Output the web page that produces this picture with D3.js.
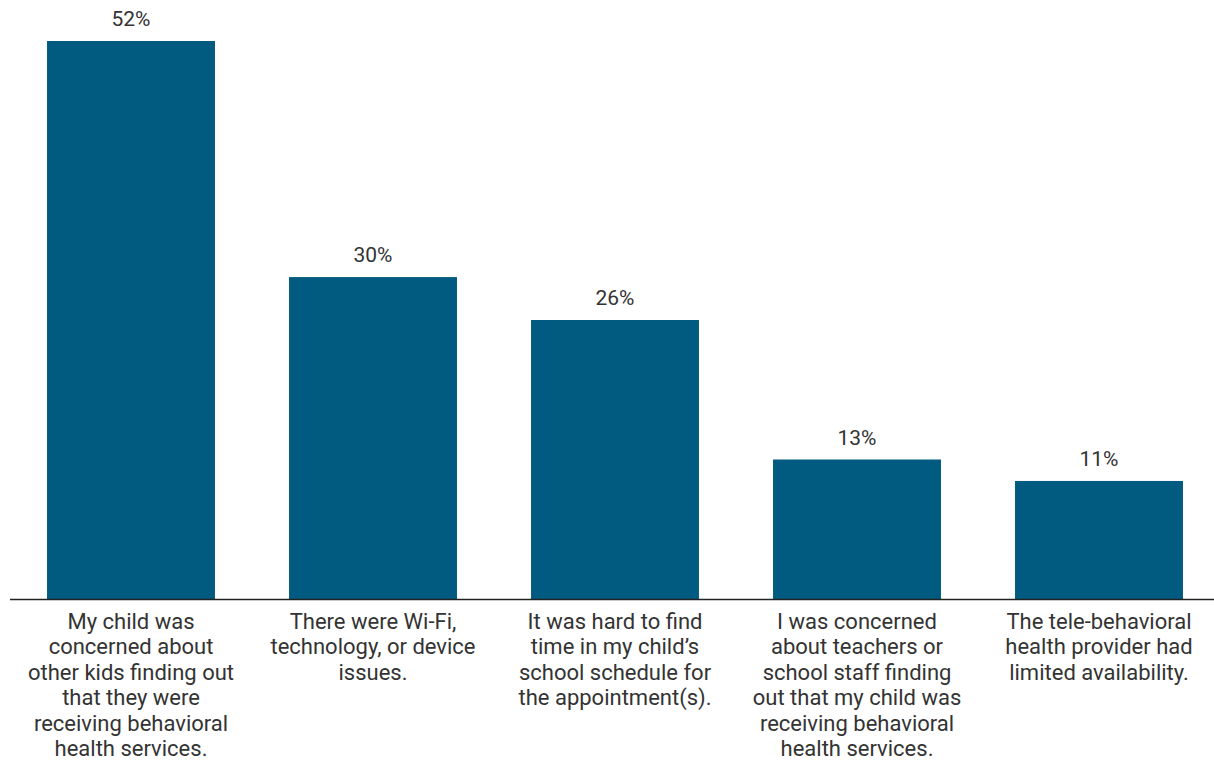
<!DOCTYPE html>
<html>
<head>
<meta charset="utf-8">
<script src="https://cdn.jsdelivr.net/npm/d3@7"></script>
<style>
  html, body { margin: 0; padding: 0; background: #fff; }
  svg text { font-family: Roboto, "Noto Sans", sans-serif; fill: #333; }
</style>
</head>
<body>
<svg id="chart" width="1214" height="765"></svg>
<script>
// Reasons reported for difficulty with school-based tele-behavioral health visits
const categories = [
  "My child was\nconcerned about\nother kids finding out\nthat they were\nreceiving behavioral\nhealth services.",
  "There were Wi-Fi,\ntechnology, or device\nissues.",
  "It was hard to find\ntime in my child\u2019s\nschool schedule for\nthe appointment(s).",
  "I was concerned\nabout teachers or\nschool staff finding\nout that my child was\nreceiving behavioral\nhealth services.",
  "The tele-behavioral\nhealth provider had\nlimited availability."
];
const values = [52, 30, 26, 13, 11];
const valueLabels = ["52%", "30%", "26%", "13%", "11%"];

const svg = d3.select("#chart");
const baseY = 599;

const x = d3.scaleBand()
  .domain(categories)
  .range([10, 1220])
  .paddingInner(0.306)
  .paddingOuter(0.153);

const y = d3.scaleLinear()
  .domain([0, 52])
  .range([baseY, 41]);

// bars
svg.append("g").selectAll("rect")
  .data(values)
  .join("rect")
  .attr("x", (d, i) => x(categories[i]))
  .attr("y", d => y(d))
  .attr("width", x.bandwidth())
  .attr("height", d => baseY - y(d))
  .attr("fill", "#015b80");

// value labels above bars
svg.append("g").selectAll("text")
  .data(values)
  .join("text")
  .attr("x", (d, i) => x(categories[i]) + x.bandwidth() / 2)
  .attr("y", d => y(d) - 15)
  .attr("text-anchor", "middle")
  .attr("font-size", 21)
  .text((d, i) => valueLabels[i]);

// baseline
svg.append("line")
  .attr("x1", 10).attr("x2", 1214)
  .attr("y1", baseY + 0.5).attr("y2", baseY + 0.5)
  .attr("stroke", "#222").attr("stroke-width", 1.4);

// category labels, one tspan per line
const lab = svg.append("g").selectAll("text")
  .data(categories)
  .join("text")
  .attr("text-anchor", "middle")
  .attr("font-size", 22)
  .attr("transform", d => `translate(${x(d) + x.bandwidth() / 2},${baseY + 30})`);

lab.each(function(d) {
  const t = d3.select(this);
  d.split("\n").forEach((line, k) => {
    t.append("tspan").attr("x", 0).attr("y", k * 25.4).text(line);
  });
});
</script>
</body>
</html>
